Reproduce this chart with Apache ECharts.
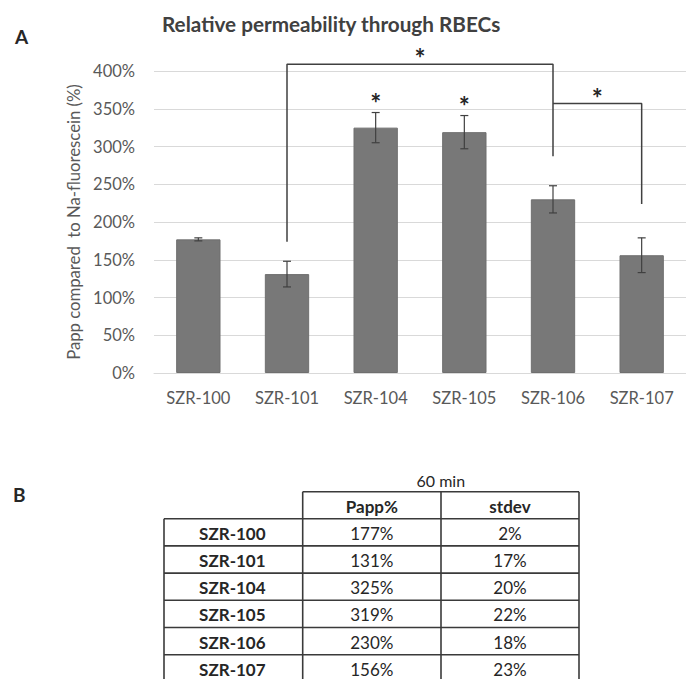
<!DOCTYPE html>
<html>
<head>
<meta charset="utf-8">
<script src="https://cdn.jsdelivr.net/npm/echarts@6/dist/echarts.min.js"></script>
<style>
html,body{margin:0;padding:0;background:#fff;}
#chart{width:686px;height:679px;}
</style>
</head>
<body>
<div id="chart"></div>
<script>
// ---- data ----
const categories = ['SZR-100', 'SZR-101', 'SZR-104', 'SZR-105', 'SZR-106', 'SZR-107'];
const pappValues = [177, 131, 325, 319, 230, 156];
const stdevValues = [2, 17, 20, 22, 18, 23];
const yTickLabels = ['0%', '50%', '100%', '150%', '200%', '250%', '300%', '350%', '400%'];
// significance stars above single bars: [category index, y value]
const barStars = [[2, 366], [3, 362]];
// brackets as polylines in [category position, y value]
const bracket1 = [[1, 174], [1, 409], [4, 409], [4, 287]];
const bracket2 = [[4, 357], [5, 357], [5, 224]];
// bracket stars: [category position, y value]
const bracketStars = [[2.5, 425], [4.5, 372]];
const tableHeader = ['Papp%', 'stdev'];
const tableTitle = '60 min';

const FONT = 'Lato';
const chart = echarts.init(document.getElementById('chart'), null, {renderer: 'svg'});

const errData = categories.map((c, i) => [i, pappValues[i] - stdevValues[i], pappValues[i] + stdevValues[i]]);

// ---- table graphics ----
const tX = [164, 302.7, 441, 579];
const tHeadTop = 491.7;
const tRowH = 27.2;
const tFirst = 518.7;
const nRows = categories.length;
const tBottom = tFirst + tRowH * nRows;
const lineStyle = {stroke: '#3a3a3a', lineWidth: 1.6};
const graphics = [];
graphics.push({type: 'text', left: 15, top: 27, style: {text: 'A', font: 'bold 19px ' + FONT, fill: '#262626'}});
graphics.push({type: 'text', left: 13, top: 485, style: {text: 'B', font: 'bold 19px ' + FONT, fill: '#262626'}});
graphics.push({type: 'text', x: (tX[1] + tX[3]) / 2, y: 480, style: {text: tableTitle, font: '16px ' + FONT, fill: '#262626', align: 'center', verticalAlign: 'middle'}});
// header top
graphics.push({type: 'line', shape: {x1: tX[1], y1: tHeadTop, x2: tX[3], y2: tHeadTop}, style: lineStyle});
// horizontal row lines
for (let r = 0; r <= nRows; r++) {
  const y = tFirst + r * tRowH;
  graphics.push({type: 'line', shape: {x1: tX[0], y1: y, x2: tX[3], y2: y}, style: lineStyle});
}
// verticals
graphics.push({type: 'line', shape: {x1: tX[0], y1: tFirst, x2: tX[0], y2: tBottom}, style: lineStyle});
for (let c = 1; c < 4; c++) {
  graphics.push({type: 'line', shape: {x1: tX[c], y1: tHeadTop, x2: tX[c], y2: tBottom}, style: lineStyle});
}
// header text
tableHeader.forEach((h, i) => {
  graphics.push({type: 'text', x: (tX[i + 1] + tX[i + 2]) / 2, y: (tHeadTop + tFirst) / 2 + 1,
    style: {text: h, font: 'bold 17px ' + FONT, fill: '#262626', align: 'center', verticalAlign: 'middle'}});
});
categories.forEach((c, r) => {
  const yc = tFirst + (r + 0.5) * tRowH + 1;
  graphics.push({type: 'text', x: (tX[0] + tX[1]) / 2 - 1, y: yc,
    style: {text: c, font: 'bold 17px ' + FONT, fill: '#262626', align: 'center', verticalAlign: 'middle'}});
  graphics.push({type: 'text', x: (tX[1] + tX[2]) / 2, y: yc,
    style: {text: pappValues[r] + '%', font: '17px ' + FONT, fill: '#262626', align: 'center', verticalAlign: 'middle'}});
  graphics.push({type: 'text', x: (tX[2] + tX[3]) / 2, y: yc,
    style: {text: stdevValues[r] + '%', font: '17px ' + FONT, fill: '#262626', align: 'center', verticalAlign: 'middle'}});
});

function starSeries(data, xIdx) {
  return {
    type: 'custom', xAxisIndex: xIdx, silent: true, clip: false, z: 5,
    data: data,
    renderItem: function (params, api) {
      const p = api.coord([api.value(0), api.value(1)]);
      return {type: 'text', x: p[0], y: p[1] + 6,
        style: {text: '*', font: 'bold 26px ' + FONT, fill: '#262626', align: 'center', verticalAlign: 'middle'}};
    }
  };
}
function bracketSeries(data) {
  return {
    type: 'line', xAxisIndex: 1, data: data, symbol: 'none', silent: true, clip: false, z: 4,
    lineStyle: {color: '#404040', width: 1.5}, animation: false
  };
}

const option = {
  animation: false,
  textStyle: {fontFamily: FONT},
  title: {
    text: 'Relative permeability through RBECs',
    left: 157, top: 8,
    textStyle: {fontFamily: FONT, fontWeight: 'bold', fontSize: 20.7, color: '#404040'}
  },
  grid: {left: 154, top: 71, width: 538, height: 302},
  xAxis: [
    {
      type: 'category', data: categories,
      axisLine: {lineStyle: {color: '#d9d9d9', width: 1}},
      axisTick: {show: false},
      axisLabel: {color: '#595959', fontSize: 16.5, margin: 16, fontFamily: FONT}
    },
    {type: 'value', min: -0.5, max: 5.5, show: false}
  ],
  yAxis: {
    type: 'value', min: 0, max: 400, interval: 50,
    name: 'Papp compared  to Na-fluorescein (%)',
    nameLocation: 'middle', nameGap: 70, nameRotate: 90,
    nameTextStyle: {color: '#595959', fontSize: 16.7, fontFamily: FONT},
    axisLine: {show: false}, axisTick: {show: false},
    splitLine: {lineStyle: {color: '#d9d9d9', width: 1}},
    axisLabel: {color: '#595959', fontSize: 16.5, margin: 19, fontFamily: FONT,
      formatter: function (v) { return yTickLabels[Math.round(v / 50)]; }}
  },
  graphic: graphics,
  series: [
    {
      type: 'bar', data: pappValues, barWidth: '50%', xAxisIndex: 0,
      itemStyle: {color: '#787878', borderColor: '#6f6f6f', borderWidth: 1}
    },
    {
      type: 'custom', xAxisIndex: 0, data: errData, z: 3, silent: true,
      renderItem: function (params, api) {
        const x = api.value(0);
        const lo = api.coord([x, api.value(1)]);
        const hi = api.coord([x, api.value(2)]);
        const w = 4;
        const st = {stroke: '#404040', lineWidth: 1.2};
        return {type: 'group', children: [
          {type: 'line', shape: {x1: lo[0], y1: lo[1], x2: hi[0], y2: hi[1]}, style: st},
          {type: 'line', shape: {x1: lo[0] - w, y1: lo[1], x2: lo[0] + w, y2: lo[1]}, style: st},
          {type: 'line', shape: {x1: hi[0] - w, y1: hi[1], x2: hi[0] + w, y2: hi[1]}, style: st}
        ]};
      }
    },
    bracketSeries(bracket1),
    bracketSeries(bracket2),
    starSeries(barStars, 0),
    starSeries(bracketStars, 1)
  ]
};
chart.setOption(option);
</script>
</body>
</html>
